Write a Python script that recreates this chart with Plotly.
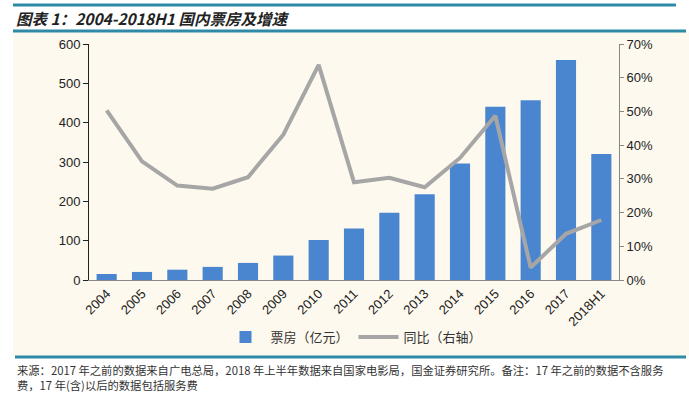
import plotly.graph_objects as go

categories = ["2004", "2005", "2006", "2007", "2008", "2009", "2010", "2011",
              "2012", "2013", "2014", "2015", "2016", "2017", "2018H1"]
box_office = [15.2, 20.5, 26.2, 33.3, 43.4, 62.1, 101.7, 131.2,
              170.7, 217.7, 296.4, 440.7, 457.1, 559.1, 320.3]
yoy_growth = [0.503, 0.352, 0.28, 0.271, 0.305, 0.431, 0.638, 0.29,
              0.303, 0.275, 0.362, 0.487, 0.037, 0.137, 0.178]

title_text = "图表 1：2004-2018H1 国内票房及增速"
footer_text = ("来源：2017 年之前的数据来自广电总局，2018 年上半年数据来自国家电影局，国金证券研究所。备注：17 年之前的数据不含服务"
               "<br>费，17 年(含)以后的数据包括服务费")

W, H = 689, 396
L, R, T, B = 89, 619, 44, 280

def px_x(px):
    return (px - L) / (R - L)

def px_y(py):
    return (B - py) / (B - T)

fig = go.Figure()
fig.add_trace(go.Bar(x=categories, y=box_office, name="票房（亿元）",
                     marker=dict(color="#4a86d0", line=dict(width=0)), yaxis="y"))
fig.add_trace(go.Scatter(x=categories, y=yoy_growth, name="同比（右轴）", mode="lines",
                         line=dict(color="#a6a6a6", width=4), yaxis="y2"))

tick_font = dict(family="Liberation Sans, Arial, sans-serif", size=13, color="#222")

fig.update_layout(
    width=W, height=H,
    margin=dict(l=L, r=W - R, t=T, b=H - B),
    paper_bgcolor="white",
    plot_bgcolor="rgba(0,0,0,0)",
    bargap=0.43,
    showlegend=True,
    legend=dict(orientation="h", x=0.5, xanchor="center", y=px_y(337), yanchor="middle",
                font=dict(family="Noto Sans CJK SC", size=13, color="#333"),
                bgcolor="rgba(0,0,0,0)", itemwidth=40, tracegroupgap=0),
    xaxis=dict(type="category", tickangle=-45, tickfont=tick_font,
               showline=True, linecolor="#888", linewidth=1, ticks="", showgrid=False),
    yaxis=dict(range=[0, 600], dtick=100, tickfont=tick_font, showgrid=False,
               showline=True, linecolor="#222", linewidth=1, ticks="outside",
               ticklen=5, tickcolor="#222", zeroline=False),
    yaxis2=dict(range=[0, 0.7], dtick=0.1, tickformat=".0%", overlaying="y", side="right",
                tickfont=tick_font, showgrid=False, showline=True, linecolor="#888",
                linewidth=1, ticks="outside", ticklen=4, tickcolor="#888", zeroline=False),
    shapes=[
        dict(type="rect", xref="paper", yref="paper", layer="below",
             x0=px_x(13), x1=px_x(689), y0=px_y(356), y1=px_y(32),
             fillcolor="#fdf9ee", line=dict(width=0)),
        dict(type="line", xref="paper", yref="paper", x0=px_x(13), x1=px_x(676),
             y0=px_y(5), y1=px_y(5), line=dict(color="#2f8aa8", width=3)),
        dict(type="line", xref="paper", yref="paper", x0=px_x(13), x1=px_x(686),
             y0=px_y(31), y1=px_y(31), line=dict(color="#2f8aa8", width=3)),
        dict(type="line", xref="paper", yref="paper", x0=px_x(15), x1=px_x(686),
             y0=px_y(357), y1=px_y(357), line=dict(color="#2f8aa8", width=3)),
    ],
    annotations=[
        dict(text="<b><i>" + title_text + "</i></b>", xref="paper", yref="paper",
             x=px_x(14), y=px_y(18), xanchor="left", yanchor="middle", showarrow=False,
             font=dict(family="Noto Sans CJK SC", size=15.5, color="#222")),
        dict(text=footer_text, xref="paper", yref="paper", x=px_x(15), y=px_y(377),
             xanchor="left", yanchor="middle", align="left", showarrow=False,
             font=dict(family="Noto Sans CJK SC", size=11.3, color="#333")),
    ],
)

fig.write_html("out.html", config={"displayModeBar": False},
               post_script="document.body.style.margin='0';document.body.style.padding='0';")
